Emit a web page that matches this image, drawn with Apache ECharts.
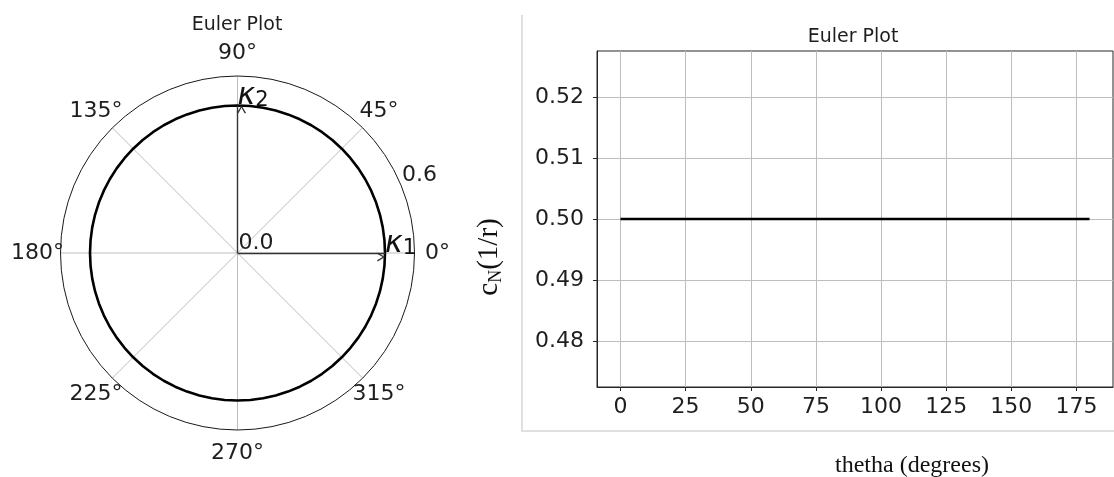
<!DOCTYPE html>
<html>
<head>
<meta charset="utf-8">
<script src="https://cdn.jsdelivr.net/npm/echarts@6/dist/echarts.min.js"></script>
<style>
  html, body { margin: 0; padding: 0; background: #ffffff; }
  #chart { width: 1114px; height: 477px; }
</style>
</head>
<body>
<div id="chart"></div>
<script>
// Normal curvature c_N against direction theta (Euler's theorem, kappa1 = kappa2)
const thetaDeg = [0, 5, 10, 15, 20, 25, 30, 35, 40, 45, 50, 55, 60, 65, 70, 75, 80, 85, 90,
  95, 100, 105, 110, 115, 120, 125, 130, 135, 140, 145, 150, 155, 160, 165, 170, 175, 180];
const normalCurvature = [0.5, 0.5, 0.5, 0.5, 0.5, 0.5, 0.5, 0.5, 0.5, 0.5, 0.5, 0.5, 0.5, 0.5, 0.5, 0.5, 0.5, 0.5, 0.5,
  0.5, 0.5, 0.5, 0.5, 0.5, 0.5, 0.5, 0.5, 0.5, 0.5, 0.5, 0.5, 0.5, 0.5, 0.5, 0.5, 0.5, 0.5];

// Principal curvatures shown as arrows in the polar view
const principalNames = ['1', '2'];
const principalValues = [0.5, 0.5];
const principalDirections = [0, 90];

// Tick values
const angleTicks = [0, 45, 90, 135, 180, 225, 270, 315];
const radialTicks = [0.0, 0.6];
const xTicks = [0, 25, 50, 75, 100, 125, 150, 175];
const yTicks = [0.48, 0.49, 0.50, 0.51, 0.52];

const SANS = "'DejaVu Sans', sans-serif";
const SERIF = "'Liberation Serif', 'DejaVu Serif', serif";
const TEXT = '#1e1e1e';
const radialMax = 0.6;

// curvature is periodic over 180 degrees, so the polar trace covers the full turn
const polarTrace = [];
thetaDeg.forEach((t, i) => polarTrace.push([normalCurvature[i], t]));
thetaDeg.forEach((t, i) => { if (i > 0) polarTrace.push([normalCurvature[i], t + 180]); });

const chevron = 'path://M5,0 L10,8 L8.6,8.8 L5,2.6 L1.4,8.8 L0,8 Z';

// shared settings for the text-only scatter layers in the polar view
const textLayer = {
  type: 'scatter', coordinateSystem: 'polar', clip: false, silent: true,
  symbolSize: 0, itemStyle: { opacity: 1 },
  emphasis: { disabled: true }
};

const chart = echarts.init(document.getElementById('chart'), null, { renderer: 'canvas' });

chart.setOption({
  animation: false,
  backgroundColor: '#ffffff',
  polar: { center: [237.5, 253], radius: 177 },
  angleAxis: {
    type: 'value', min: 0, max: 360, interval: 45,
    startAngle: 0, clockwise: false,
    axisLine: { show: true, lineStyle: { color: '#1a1a1a', width: 1 } },
    axisTick: { show: false },
    axisLabel: { show: false },
    splitLine: { show: true, lineStyle: { color: '#bdbdbd', width: 1 } }
  },
  radiusAxis: {
    type: 'value', min: 0, max: radialMax,
    axisLine: { show: false }, axisTick: { show: false },
    axisLabel: { show: false }, splitLine: { show: false }
  },
  grid: {
    left: 597, top: 51, width: 516, height: 336,
    show: true, borderColor: '#262626', borderWidth: 1, backgroundColor: 'transparent'
  },
  xAxis: {
    type: 'value', min: -9, max: 189,
    axisLine: { show: true, onZero: false, lineStyle: { color: '#262626', width: 1 } },
    axisTick: { show: true, inside: false, length: 4, customValues: xTicks, lineStyle: { color: '#262626' } },
    axisLabel: { customValues: xTicks, margin: 9, fontSize: 22, fontFamily: SANS, color: TEXT },
    splitLine: { show: true, lineStyle: { color: '#bdbdbd', width: 1 } }
  },
  yAxis: {
    type: 'value', min: 0.4725, max: 0.5275,
    axisLine: { show: true, onZero: false, lineStyle: { color: '#262626', width: 1 } },
    axisTick: { show: true, inside: false, length: 4, customValues: yTicks, lineStyle: { color: '#262626' } },
    axisLabel: { customValues: yTicks, margin: 13, fontSize: 22, fontFamily: SANS, color: TEXT,
      formatter: v => v.toFixed(2) },
    splitLine: { show: true, lineStyle: { color: '#bdbdbd', width: 1 } }
  },
  series: [
    {
      type: 'line', coordinateSystem: 'polar', data: polarTrace,
      showSymbol: false, silent: true,
      lineStyle: { color: '#000000', width: 2.6 },
      markLine: {
        silent: true, animation: false,
        symbol: ['none', chevron], symbolSize: [9, 8], symbolOffset: [0, 4],
        label: { show: false },
        emphasis: { disabled: true },
        lineStyle: { color: '#333333', width: 1.4, type: 'solid' },
        data: principalValues.map((k, i) => [
          { coord: [0, principalDirections[i]] },
          { coord: [k, principalDirections[i]] }
        ])
      }
    },
    Object.assign({}, textLayer, {
      // angle tick labels
      data: angleTicks.map(a => [radialMax * 1.13, a]),
      label: { show: true, position: [0, 0], align: 'center', verticalAlign: 'middle',
        fontSize: 22, fontFamily: SANS, color: TEXT, opacity: 1, textBorderWidth: 0,
        formatter: p => p.value[1] + '°' }
    }),
    Object.assign({}, textLayer, {
      // radial tick labels
      data: radialTicks.map(r => [r, 22.5]),
      label: { show: true, position: [0, 0], align: 'left', verticalAlign: 'bottom',
        offset: [1, 1], fontSize: 22, fontFamily: SANS, color: TEXT, opacity: 1, textBorderWidth: 0,
        formatter: p => p.value[0].toFixed(1) }
    }),
    Object.assign({}, textLayer, {
      // principal curvature labels
      data: principalValues.map((k, i) => ({ value: [k, principalDirections[i]], name: principalNames[i] })),
      label: { show: true, position: [0, 0], align: 'left', verticalAlign: 'bottom',
        offset: [0, 6], opacity: 1, textBorderWidth: 0,
        formatter: p => '{k|κ}{s|' + p.name + '}',
        rich: {
          k: { fontSize: 30, fontStyle: 'italic', fontFamily: SANS, color: '#111111', lineHeight: 30 },
          s: { fontSize: 21, fontFamily: SANS, color: '#111111', lineHeight: 21, verticalAlign: 'bottom' }
        } }
    }),
    {
      type: 'line', xAxisIndex: 0, yAxisIndex: 0,
      data: thetaDeg.map((t, i) => [t, normalCurvature[i]]),
      showSymbol: false, silent: true,
      lineStyle: { color: '#000000', width: 2.6 }
    }
  ],
  graphic: [
    { type: 'text', x: 237, y: 25, silent: true,
      style: { text: 'Euler Plot', align: 'center', verticalAlign: 'middle',
        fontSize: 19, fontFamily: SANS, fill: TEXT } },
    { type: 'text', x: 853, y: 37, silent: true,
      style: { text: 'Euler Plot', align: 'center', verticalAlign: 'middle',
        fontSize: 19, fontFamily: SANS, fill: TEXT } },
    { type: 'text', x: 912, y: 466, silent: true,
      style: { text: 'thetha (degrees)', align: 'center', verticalAlign: 'middle',
        fontSize: 24, fontFamily: SERIF, fill: '#111111' } },
    { type: 'text', x: 489, y: 257, rotation: Math.PI / 2, silent: true,
      style: { text: '{c|c}{n|N}{c|(1/r)}', align: 'center', verticalAlign: 'middle',
        rich: {
          c: { fontSize: 29, fontFamily: SERIF, fill: '#111111', lineHeight: 29, verticalAlign: 'top' },
          n: { fontSize: 18, fontFamily: SERIF, fill: '#111111', lineHeight: 18, verticalAlign: 'top',
               padding: [13, 0, 0, 0] }
        } } },
    // panel frame around the right-hand plot
    { type: 'polyline', silent: true,
      shape: { points: [[522, 15], [522, 431], [1114, 431]] },
      style: { stroke: '#d6d6d6', lineWidth: 1.5, fill: null } }
  ]
});
</script>
</body>
</html>
